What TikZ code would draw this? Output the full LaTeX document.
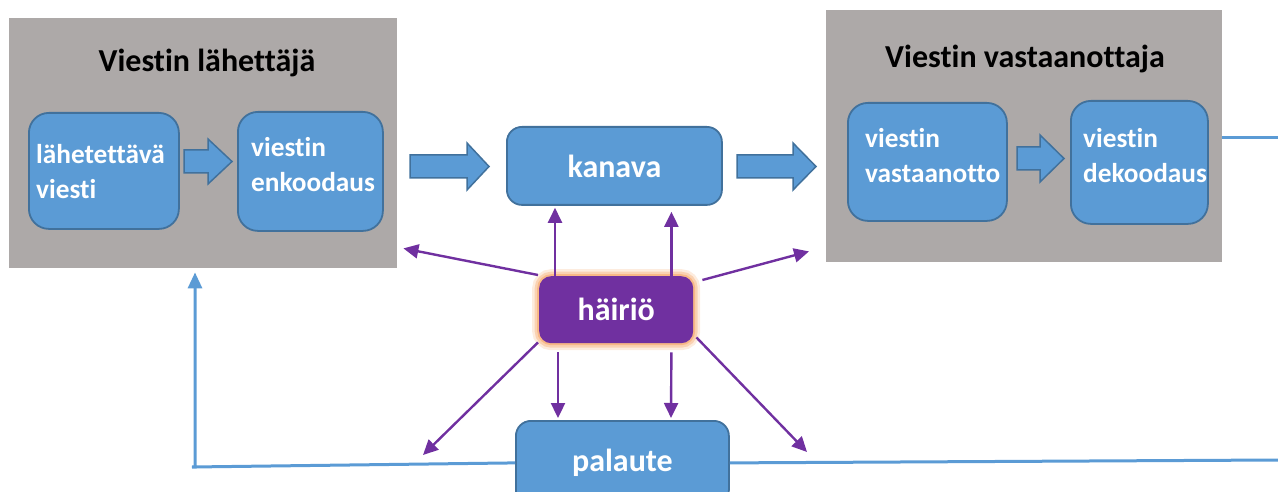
\documentclass[tikz,border=0pt]{standalone}
\usepackage{fontspec}
\setmainfont{Carlito}[Ligatures=NoCommon]
\usetikzlibrary{arrows.meta,calc}
\definecolor{boxblue}{HTML}{5B9BD5}
\definecolor{boxline}{HTML}{41719C}
\definecolor{panelgray}{HTML}{ADA9A8}
\definecolor{hpurple}{HTML}{7030A0}
\definecolor{glow}{HTML}{F7B27C}
\newcommand\blkarrow[8]{%
  \draw[blockarr] (#1,#4) -- (#3,#4) -- (#3,#6) -- (#2,#8) -- (#3,#7) -- (#3,#5) -- (#1,#5) -- cycle;}
\tikzset{
  panel/.style={fill=panelgray, draw=none, anchor=north west, inner sep=0pt},
  bluebox/.style={fill=boxblue, draw=boxline, line width=1.8pt, rounded corners=#1,
    anchor=north west, inner sep=0pt, text=white, font=\bfseries\fontsize{32}{38}\selectfont},
  titletext/.style={anchor=base, inner sep=0pt, font=\bfseries\fontsize{32}{38}\selectfont, text=black},
  innertext/.style={anchor=west, inner sep=0pt, align=left, text=white,
    font=\bfseries\fontsize{27.3}{35}\selectfont},
  blockarr/.style={fill=boxblue, draw=boxline, line width=1.5pt, line join=miter},
  noise/.style={draw=hpurple, line width=2.4pt, -{Triangle[length=15pt,width=14pt]}},
  fb/.style={draw=boxblue, line width=3pt},
  glowbox/.style={fill=hpurple, draw=none, rounded corners=12pt, anchor=north west, inner sep=0pt,
    text=white, font=\bfseries\fontsize{32}{38}\selectfont,
    preaction={draw=glow, line width=14pt, opacity=0.25, rounded corners=12pt},
    preaction={draw=glow, line width=9pt, opacity=0.45, rounded corners=12pt},
    preaction={draw=glow, line width=4pt, opacity=0.8, rounded corners=12pt}}
}
\begin{document}
\begin{tikzpicture}[x=1pt,y=-1pt]
\useasboundingbox (0,0) rectangle (1278,492);

% panels
\node[panel, minimum width=388pt, minimum height=250pt] (sender) at (9,18) {};
\node[panel, minimum width=396pt, minimum height=252pt] (receiver) at (826,10) {};
\node[titletext] (senderT) at (207,72) {Viestin lähettäjä};
\node[titletext] (receiverT) at (1025,68) {Viestin vastaanottaja};

% sender boxes
\node[bluebox=20pt, minimum width=150pt, minimum height=116pt] (msg) at (28,112) {};
\node[innertext] (msgT) at (36,171.5) {lähetettävä\\viesti};
\node[bluebox=20pt, minimum width=145pt, minimum height=119pt] (enc) at (237,111) {};
\node[innertext] (encT) at (251,164.5) {viestin\\enkoodaus};

% receiver boxes
\node[bluebox=20pt, minimum width=159pt, minimum height=118pt] (rec) at (847,102) {};
\node[innertext] (recT) at (865,155.5) {viestin\\vastaanotto};
\node[bluebox=20pt, minimum width=137pt, minimum height=123pt] (dec) at (1070,100) {};
\node[innertext] (decT) at (1083,156) {viestin\\dekoodaus};

% channel, noise, feedback
\node[bluebox=15pt, minimum width=215pt, minimum height=78pt] (kanava) at (506,126) {kanava};
\node[glowbox, minimum width=154pt, minimum height=67pt] (hairio) at (539,276) {häiriö};
\node[bluebox=15pt, minimum width=213pt, minimum height=84pt] (palaute) at (515,420) {palaute};

% block arrows
\blkarrow{184}{232}{208}{150}{173}{139}{184}{161.5}
\blkarrow{410}{489}{467}{155}{178}{143}{190}{166.5}
\blkarrow{737}{816}{793}{155}{178}{143}{190}{166.5}
\blkarrow{1017}{1064}{1040}{147}{170}{135}{182}{158.5}

% noise arrows
\draw[noise] ([xshift=16pt]hairio.north west) -- ([xshift=16pt,yshift=-2pt]hairio.north west |- kanava.south);
\draw[noise] ([xshift=-22pt]hairio.north east) -- ([xshift=-22pt,yshift=-6pt]hairio.north east |- kanava.south);
\draw[noise] ([shift={(-1pt,1pt)}]hairio.north west) -- ([shift={(6pt,20pt)}]sender.south east);
\draw[noise] ([shift={(9pt,-4pt)}]hairio.north east) -- ([shift={(-17pt,11pt)}]receiver.south west);
\coordinate (dl) at (423,455);
\coordinate (dr) at (807,452);
\draw[noise] ([shift={(-1pt,1pt)}]hairio.south west) -- (dl);
\draw[noise] ([shift={(3pt,6pt)}]hairio.south east) -- (dr);
\draw[noise] ([shift={(19pt,-9pt)}]hairio.south west) -- ([xshift=43pt,yshift=2pt]palaute.north west);
\draw[noise] ([shift={(-22pt,-9pt)}]hairio.south east) -- ([xshift=156pt,yshift=2pt]palaute.north west);

% output line and feedback loop
\coordinate (outR) at (1278,138);
\draw[fb] (outR -| receiver.east) -- (outR);
\coordinate (fbR) at (1278,460);
\coordinate (fbL) at (195,467);
\draw[fb] (fbR) -- (palaute.east);
\draw[fb, -{Triangle[length=16pt,width=14pt]}, shorten >=4pt] (palaute.west) -- ([xshift=-3pt]fbL) -- (fbL) -- (fbL |- sender.south);
\end{tikzpicture}
\end{document}
